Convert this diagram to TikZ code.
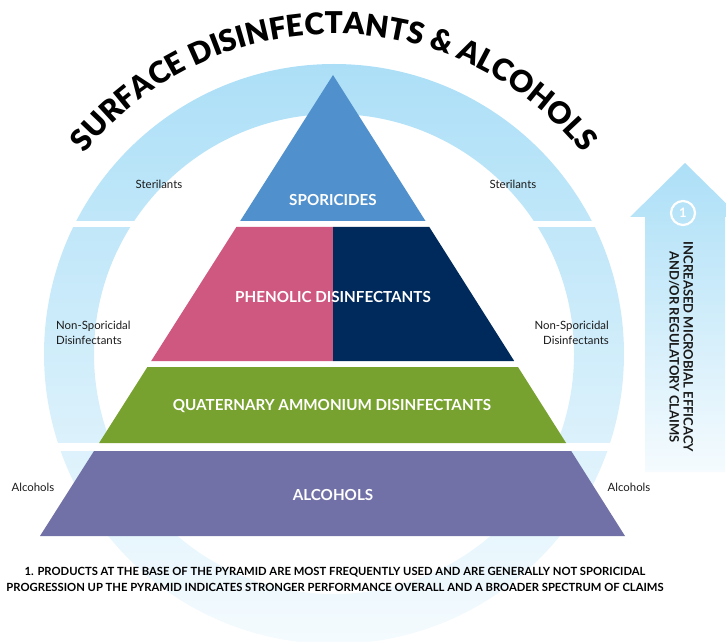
\documentclass[tikz,border=0pt]{standalone}
\usepackage{fontspec}
\setmainfont{Lato}
\IfFontExistsTF{Lato Black}{\newfontfamily\titlefont{Lato Black}}{\newcommand\titlefont{\bfseries}}
\usetikzlibrary{decorations.text}
\definecolor{spor}{HTML}{5090CC}
\definecolor{phen}{HTML}{CF5880}
\definecolor{navy}{HTML}{002A5C}
\definecolor{quat}{HTML}{78A22F}
\definecolor{alc}{HTML}{7171A7}
\definecolor{ringtop}{HTML}{ACDFF7}
\definecolor{ringmid}{HTML}{CBEAF9}
\definecolor{ringbot}{HTML}{F5FBFE}
\definecolor{txt}{HTML}{1A1A1A}
\tikzset{
  pyrlabel/.style={text=white, font=\bfseries\fontsize{15.2}{17}\selectfont, inner sep=0pt},
  ringlabel/.style={text=txt, font=\fontsize{11.4}{15}\selectfont, inner sep=0pt},
  notelabel/.style={text=black, font=\bfseries\fontsize{11.25}{15}\selectfont, inner sep=0pt},
}
\begin{document}
\begin{tikzpicture}[x=1pt,y=1pt]
\useasboundingbox (0,0) rectangle (726,641);
\clip (0,0) rectangle (726,641);
% ring
\shade[top color=ringtop, middle color=ringmid, bottom color=ringbot, even odd rule]
  (334,287) circle[radius=290] (334,287) circle[radius=240];
\fill[white] (20,414) rectangle (628,420);
\fill[white] (20,190) rectangle (628,198);
% pyramid
\fill[spor] (333,566) -- (425.5,420) -- (240.2,420) -- cycle;
\fill[phen] (236.4,414) -- (333,414) -- (333,280) -- (151.2,280) -- cycle;
\fill[navy] (333,414) -- (429.3,414) -- (514.2,280) -- (333,280) -- cycle;
\fill[quat] (147.4,274) -- (518,274) -- (566.1,198) -- (99.1,198) -- cycle;
\fill[alc] (94,190) -- (571.2,190) -- (625,105) -- (40,105) -- cycle;
\node[pyrlabel] (sporicides) at (333,441) {SPORICIDES};
\node[pyrlabel] (phenolic) at (333,344) {PHENOLIC DISINFECTANTS};
\node[pyrlabel] (quaternary) at (332,235) {QUATERNARY AMMONIUM DISINFECTANTS};
\node[pyrlabel] (alcohols) at (333,146) {ALCOHOLS};
% ring labels
\node[ringlabel] (sterL) at (159,457) {Sterilants};
\node[ringlabel] (sterR) at (513,457) {Sterilants};
\node[ringlabel, align=left, anchor=west] (nonL) at (56,308) {Non-Sporicidal\\Disinfectants};
\node[ringlabel, align=right, anchor=east] (nonR) at (609,308) {Non-Sporicidal\\Disinfectants};
\node[ringlabel] (alcL) at (33,154) {Alcohols};
\node[ringlabel] (alcR) at (629,154) {Alcohols};
% arrow
\shade[top color=ringtop, bottom color=ringbot]
  (645,169) -- (645,424) -- (630,424) -- (685,478) -- (740,424) -- (725,424) -- (725,169) -- cycle;
\node[circle, draw=white, line width=2.2pt, minimum size=24pt, inner sep=0pt, text=white,
  font=\bfseries\fontsize{13}{13}\selectfont] (one) at (683,428) {1};
\node[rotate=-90, align=center, text=txt, font=\bfseries\fontsize{13}{14}\selectfont, inner sep=0pt]
  (claims) at (681,294) {INCREASED MICROBIAL EFFICACY\\AND/OR REGULATORY CLAIMS};
% notes
\node[notelabel] (note1) at (335,69) {1. PRODUCTS AT THE BASE OF THE PYRAMID ARE MOST FREQUENTLY USED AND ARE GENERALLY NOT SPORICIDAL};
\node[notelabel] (note2) at (335,54) {PROGRESSION UP THE PYRAMID INDICATES STRONGER PERFORMANCE OVERALL AND A BROADER SPECTRUM OF CLAIMS};
% title
\path[decorate, decoration={text along path, text align=center,
  text={|\titlefont\fontsize{30}{30}\selectfont|SURFACE DISINFECTANTS {\&} ALCOHOLS}}]
  (334,288) ++(141:319) arc[start angle=141, end angle=39, radius=319];
\end{tikzpicture}
\end{document}
